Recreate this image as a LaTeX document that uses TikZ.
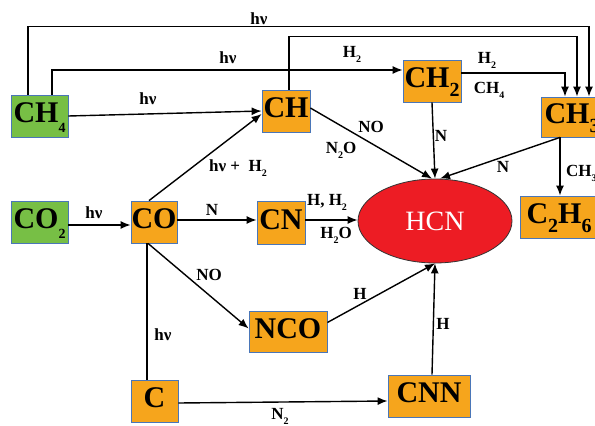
\documentclass[tikz,border=0pt]{standalone}
\usepackage{fontspec}
\setmainfont{Liberation Serif}
\usetikzlibrary{arrows.meta,shapes.geometric}
\definecolor{boxblue}{HTML}{4A76B8}
\definecolor{orng}{HTML}{F6A51C}
\definecolor{grn}{HTML}{77BF45}
\definecolor{hcnred}{HTML}{ED1C24}
\newcommand{\bsub}[1]{\raisebox{-9pt}{\fontsize{20}{20}\selectfont #1}}
\newcommand{\ssub}[1]{\raisebox{-10pt}{\fontsize{14}{14}\selectfont #1}}
\newcommand{\lsub}[1]{\raisebox{-5pt}{\fontsize{10}{10}\selectfont #1}}
\tikzset{
  chembox/.style={draw=boxblue, line width=0.8pt, inner sep=0pt, text height=19pt, text depth=6pt,
    font=\fontsize{30}{30}\selectfont\bfseries},
  obox/.style={chembox, fill=orng},
  gbox/.style={chembox, fill=grn},
  lbl/.style={font=\fontsize{17}{17}\selectfont\bfseries, inner sep=0pt},
  arr/.style={line width=1.4pt, -{Latex[length=10pt,width=8pt]}},
  ln/.style={line width=1.4pt},
}
\begin{document}
\begin{tikzpicture}[x=1pt,y=1pt]
\useasboundingbox (0,0) rectangle (595,-426);
% nodes
\node[gbox, minimum width=57pt, minimum height=42pt] (CH4) at (39.5,-116) {CH\ssub{4}};
\node[gbox, minimum width=57pt, minimum height=42pt] (CO2) at (39.5,-222) {CO\ssub{2}};
\node[obox, minimum width=46pt, minimum height=42pt] (CO) at (154,-222) {CO};
\node[obox, minimum width=48pt, minimum height=43pt] (CN) at (281,-222.5) {CN};
\node[obox, minimum width=48pt, minimum height=42pt] (CH) at (286,-111) {CH};
\node[obox, minimum width=58pt, minimum height=42pt] (CH2) at (432,-81) {CH\bsub{2}};
\node[obox, minimum width=62pt, minimum height=40pt] (CH3) at (572,-117) {CH\bsub{3}};
\node[obox, minimum width=78pt, minimum height=42pt] (C2H6) at (559,-217) {C\bsub{2}H\bsub{6}};
\node[obox, minimum width=78pt, minimum height=41pt] (NCO) at (288,-331.5) {NCO};
\node[obox, minimum width=47pt, minimum height=42pt] (C) at (154.5,-401) {C};
\node[obox, minimum width=82pt, minimum height=42pt] (CNN) at (429,-396) {CNN};
\node[ellipse, draw=black!80, line width=0.8pt, fill=hcnred, minimum width=154pt, minimum height=84pt,
  inner sep=0pt, text=white, font=\fontsize{28}{28}\selectfont] (HCN) at (435,-221) {HCN};
% connectors
\draw[arr] ([xshift=-11.5pt]CH4.north) -- ++(0,68) -| ([xshift=17pt]CH3.north);
\draw[arr] ([xshift=12.5pt]CH4.north) |- ([yshift=11pt]CH2.west);
\draw[arr] ([xshift=3pt]CH.north) -- ++(0,53) -| ([xshift=5pt]CH3.north);
\draw[arr] ([yshift=8pt]CH2.east) -| ([xshift=-7pt]CH3.north);
\draw[arr] (CH4.east) -- (CH.west);
\draw[arr] ([xshift=-5pt]CO.north) -- ([yshift=-3pt]CH.west);
\draw[arr] ([yshift=-3pt]CO2.east) -- ([yshift=-3pt]CO.west);
\draw[arr] ([yshift=2pt]CO.east) -- ([yshift=2.5pt]CN.west);
\draw[arr] ([yshift=2.5pt]CN.east) -- ([yshift=1pt]HCN.west);
\draw[arr] ([xshift=-6pt]CO.south) -- ([yshift=3pt]NCO.west);
\draw[ln] ([xshift=-7pt]CO.south) -- ([xshift=-7.5pt]C.north);
\draw[arr] ([yshift=9pt]NCO.east) -- (HCN.south);
\draw[arr] ([xshift=3pt]CNN.north) -- (HCN.south);
\draw[arr] ([yshift=-2pt]C.east) -- ([yshift=-5pt]CNN.west);
\draw[arr] ([yshift=3pt]CH.east) -- ([xshift=-3pt]HCN.north);
\draw[arr] (CH2.south) -- (HCN.north);
\draw[arr] ([xshift=-12pt]CH3.south) -- ([xshift=5pt]HCN.north);
\draw[arr] ([xshift=-12pt]CH3.south) -- ([xshift=1pt]C2H6.north);
% labels
\node[lbl] (l1) at (259,-19) {hν};
\node[lbl] (l2) at (228,-58) {hν};
\node[lbl] (l3) at (148,-99) {hν};
\node[lbl] (l4) at (352,-54) {H\lsub{2}};
\node[lbl] (l5) at (487,-60) {H\lsub{2}};
\node[lbl] (l6) at (489,-90) {CH\lsub{4}};
\node[lbl] (l7) at (371,-127) {NO};
\node[lbl] (l8) at (341,-150) {N\lsub{2}O};
\node[lbl] (l9) at (441,-136) {N};
\node[lbl] (l10) at (503,-167) {N};
\node[lbl, anchor=west] (l11) at (566,-173) {CH\lsub{3}};
\node[lbl] (l12) at (94,-213) {hν};
\node[lbl] (l13) at (238,-168) {hν +\ \ H\lsub{2}};
\node[lbl] (l14) at (212,-210) {N};
\node[lbl] (l15) at (327,-202) {H, H\lsub{2}};
\node[lbl] (l16) at (336,-235) {H\lsub{2}O};
\node[lbl] (l17) at (209,-275) {NO};
\node[lbl] (l18) at (163,-335) {hν};
\node[lbl] (l19) at (360,-294) {H};
\node[lbl] (l20) at (443,-324) {H};
\node[lbl] (l21) at (280,-416) {N\lsub{2}};
\end{tikzpicture}
\end{document}
